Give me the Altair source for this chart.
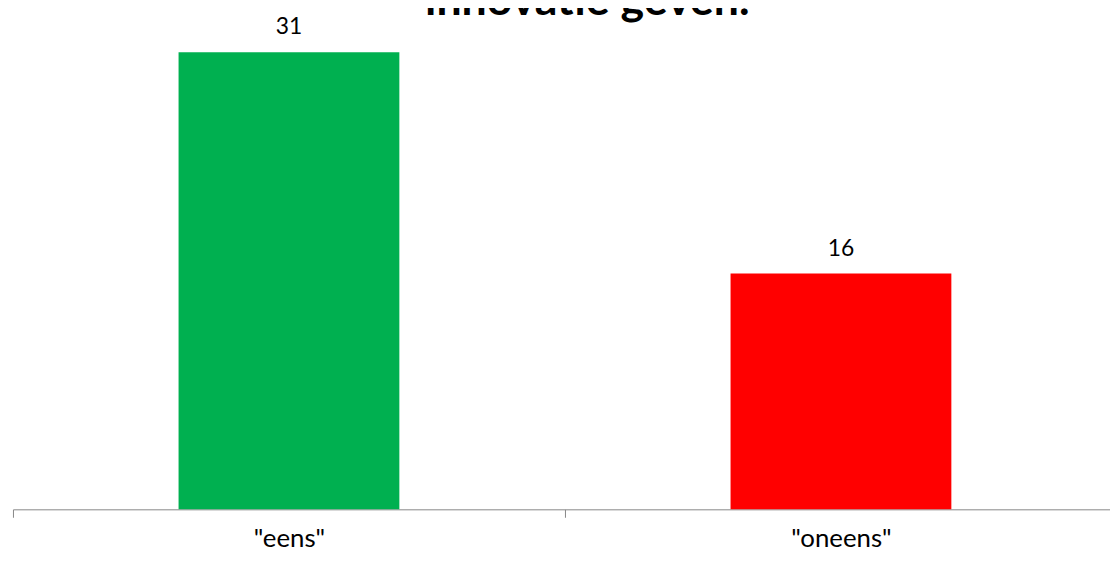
import altair as alt
import pandas as pd

categories = ['"eens"', '"oneens"']
values = [31, 16]
colors = ["#00B050", "#FF0000"]
title_line = "innovatie geven."

df = pd.DataFrame({"cat": categories, "val": values, "col": colors})

x_enc = alt.X(
    "cat:N",
    sort=None,
    scale=alt.Scale(range=[0, 1112], paddingInner=0, paddingOuter=0),
    axis=alt.Axis(
        title=None,
        labelAngle=0,
        tickBand="extent",
        domainColor="#868686",
        tickColor="#868686",
        tickSize=8,
        labelFont="Lato",
        labelFontSize=26,
        labelColor="#000000",
        labelBaseline="alphabetic",
        labelPadding=29,
        grid=False,
    ),
)
y_enc = alt.Y("val:Q", scale=alt.Scale(domain=[0, 33]), axis=None)

base = alt.Chart(df).encode(x=x_enc, y=y_enc)

bars = base.mark_bar(width=alt.RelativeBandSize(0.4)).encode(
    color=alt.Color("col:N", scale=None, legend=None)
)
labels = base.mark_text(
    dy=-18, baseline="alphabetic", font="Lato", fontSize=23, color="#000000"
).encode(text="val:Q")

title = alt.Chart(pd.DataFrame({"t": [title_line]})).mark_text(
    font="Lato", fontWeight="bold", fontSize=45, align="center",
    baseline="alphabetic", color="#000000"
).encode(x=alt.value(578.5), y=alt.value(-8.3), text="t:N")

chart = alt.layer(bars, labels, title).properties(
    width=1105,
    height=490,
    autosize=alt.AutoSizeParams(type="none"),
    padding={"left": 5, "top": 13, "right": 0, "bottom": 37},
).configure_view(stroke=None)

chart.save("out.html", embed_options={"renderer": "svg", "actions": False})
